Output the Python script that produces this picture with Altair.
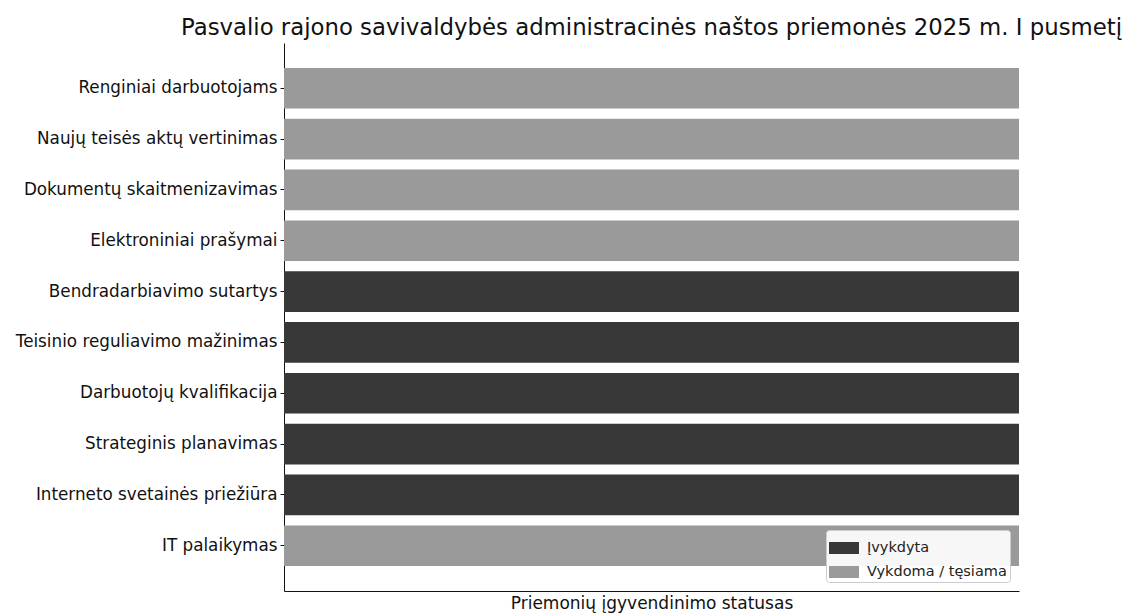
import altair as alt
import pandas as pd

categories = [
    "Renginiai darbuotojams",
    "Naujų teisės aktų vertinimas",
    "Dokumentų skaitmenizavimas",
    "Elektroniniai prašymai",
    "Bendradarbiavimo sutartys",
    "Teisinio reguliavimo mažinimas",
    "Darbuotojų kvalifikacija",
    "Strateginis planavimas",
    "Interneto svetainės priežiūra",
    "IT palaikymas",
]
statuses = [
    "Vykdoma / tęsiama",
    "Vykdoma / tęsiama",
    "Vykdoma / tęsiama",
    "Vykdoma / tęsiama",
    "Įvykdyta",
    "Įvykdyta",
    "Įvykdyta",
    "Įvykdyta",
    "Įvykdyta",
    "Vykdoma / tęsiama",
]
values = [1, 1, 1, 1, 1, 1, 1, 1, 1, 1]
status_order = ["Įvykdyta", "Vykdoma / tęsiama"]
status_colors = ["#383838", "#9a9a9a"]

df = pd.DataFrame({"Priemonė": categories, "Statusas": statuses, "Reikšmė": values})

FONT = "DejaVu Sans"

chart = (
    alt.Chart(df)
    .mark_bar()
    .encode(
        y=alt.Y(
            "Priemonė:N",
            sort=categories,
            scale=alt.Scale(paddingInner=0.2, paddingOuter=0.49),
            axis=alt.Axis(
                title=None,
                labelFont=FONT,
                labelFontSize=16.8,
                labelColor="#111",
                labelPadding=3,
                labelLimit=320,
                tickSize=4,
                tickColor="#111",
                domainColor="#111",
                grid=False,
            ),
        ),
        x=alt.X(
            "Reikšmė:Q",
            scale=alt.Scale(domain=[0, 1], nice=False),
            axis=alt.Axis(
                title="Priemonių įgyvendinimo statusas",
                titleFont=FONT,
                titleFontSize=17,
                titleFontWeight="normal",
                titleColor="#111",
                titlePadding=4,
                labels=False,
                ticks=False,
                grid=False,
                domainColor="#111",
            ),
        ),
        color=alt.Color(
            "Statusas:N",
            scale=alt.Scale(domain=status_order, range=status_colors),
            legend=alt.Legend(
                title=None,
                orient="bottom-right",
                offset=9,
                labelFont=FONT,
                labelFontSize=14.5,
                labelColor="#222",
                symbolType="M-1,-0.4L1,-0.4L1,0.4L-1,0.4Z",
                symbolSize=900,
                symbolStrokeWidth=0,
                fillColor="rgba(255,255,255,0.92)",
                strokeColor="#cccccc",
                padding=3,
                cornerRadius=3,
                rowPadding=2,
                labelOffset=8,
            ),
        ),
    )
    .properties(
        width=735,
        height=548,
        padding={"left": 276, "top": 35, "right": 105, "bottom": 22},
        autosize=alt.AutoSizeParams(type="none"),
        title=alt.TitleParams(
            "Pasvalio rajono savivaldybės administracinės naštos priemonės 2025 m. I pusmetį",
            font=FONT,
            fontSize=22.8,
            fontWeight="normal",
            color="#111",
            anchor="middle",
            offset=3,
        ),
    )
    .configure_view(stroke=None)
)

chart.save("out.html", embed_options={"renderer": "svg", "actions": False})
